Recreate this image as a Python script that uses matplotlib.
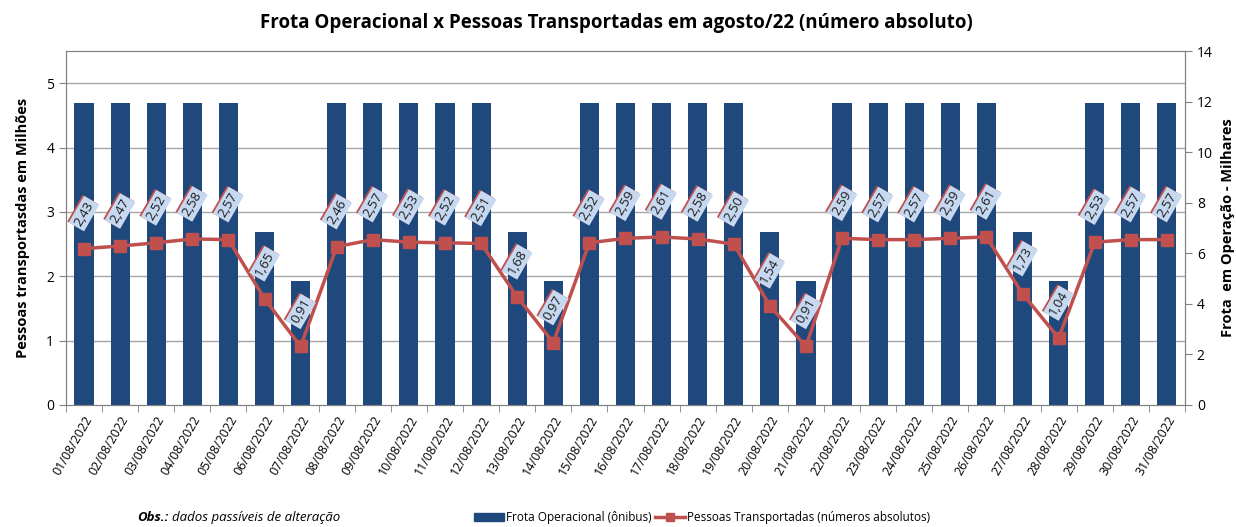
import numpy as np
import matplotlib
matplotlib.use("Agg")
import matplotlib.pyplot as plt
import matplotlib.transforms as mtransforms
from matplotlib.lines import Line2D
from matplotlib.patches import Patch

plt.rcParams['font.family'] = ['Open Sans', 'DejaVu Sans']

# Data
dias = ["%02d/08/2022" % d for d in range(1, 32)]
frota = [11.95, 11.95, 11.95, 11.95, 11.95, 6.85, 4.9,
         11.95, 11.95, 11.95, 11.95, 11.95, 6.85, 4.9,
         11.95, 11.95, 11.95, 11.95, 11.95, 6.85, 4.9,
         11.95, 11.95, 11.95, 11.95, 11.95, 6.85, 4.9,
         11.95, 11.95, 11.95]
pessoas = [2.43, 2.47, 2.52, 2.58, 2.57, 1.65, 0.91,
           2.46, 2.57, 2.53, 2.52, 2.51, 1.68, 0.97,
           2.52, 2.59, 2.61, 2.58, 2.50, 1.54, 0.91,
           2.59, 2.57, 2.57, 2.59, 2.61, 1.73, 1.04,
           2.53, 2.57, 2.57]

azul = '#1f497d'
vermelho = '#c0504d'

fig = plt.figure(figsize=(12.36, 5.27), dpi=100)
ax = fig.add_axes([0.0534, 0.2315, 0.9053, 0.6717])
ax2 = ax.twinx()

x = np.arange(len(dias))

# bars on the right axis (frota), drawn below the line
ax2.bar(x, frota, width=0.53, color=azul, zorder=2)
ax2.set_ylim(0, 14)
ax2.set_yticks(range(0, 15, 2))

ax.set_zorder(ax2.get_zorder() + 1)
ax.patch.set_visible(False)
ax.plot(x, pessoas, color=vermelho, lw=2.5, marker='s', ms=8, zorder=5)
ax.set_ylim(0, 5.5)
ax.set_yticks(range(0, 6))
ax.set_xlim(-0.5, len(dias) - 0.5)

# grid lines live on ax2 so they stay behind the bars
for v in range(1, 6):
    ax2.axhline(v * 14 / 5.5, color='#a6a6a6', lw=1, zorder=0)

# x ticks between categories
ax.set_xticks(x)
ax.set_xticklabels(dias, rotation=60, ha='right', rotation_mode='anchor', fontsize=9)
ax.set_xticks(np.arange(-0.5, len(dias)), minor=True)
ax.tick_params(axis='x', which='major', length=0, pad=6)
ax.tick_params(axis='x', which='minor', length=5, color='#808080')
ax2.tick_params(axis='x', length=0)

ax.tick_params(axis='y', labelsize=10, length=5, color='#808080')
ax2.tick_params(axis='y', labelsize=10, length=5, color='#808080')

for a in (ax, ax2):
    for s in a.spines.values():
        s.set_color('#808080')

ax.set_ylabel("Pessoas transportasdas em Milhões", fontsize=10.5, fontweight='bold', labelpad=12)
ax2.set_ylabel("Frota  em Operação - Milhares", fontsize=10.5, fontweight='bold',
               rotation=90, labelpad=6)

# data labels
for xi, yi in zip(x, pessoas):
    txt = ("%.2f" % yi).replace('.', ',')
    base = ax.transData + mtransforms.ScaledTranslation(0 / 100, 35 / 100, fig.dpi_scale_trans)
    shadow = ax.transData + mtransforms.ScaledTranslation(-1.5 / 100, 36 / 100, fig.dpi_scale_trans)
    ax.text(xi, yi, txt, transform=shadow, rotation=60, ha='center', va='center',
            fontsize=9.5, color=vermelho, zorder=6,
            bbox=dict(boxstyle='square,pad=0.18', fc=vermelho, ec='none'))
    ax.text(xi, yi, txt, transform=base, rotation=60, ha='center', va='center',
            fontsize=9.5, color='#1a1a1a', zorder=7,
            bbox=dict(boxstyle='square,pad=0.18', fc='#c6d9f1', ec='none'))

fig.suptitle("Frota Operacional x Pessoas Transportadas em agosto/22 (número absoluto)",
             x=0.499, y=0.975, fontsize=13.5, fontweight='bold')

handles = [Patch(color=azul, label="Frota Operacional (ônibus)"),
           Line2D([], [], color=vermelho, lw=2.5, marker='s', ms=6,
                  label="Pessoas Transportadas (números absolutos)")]
fig.legend(handles=handles, loc='center', bbox_to_anchor=(0.568, 0.018), ncol=2,
           frameon=False, fontsize=8.5, handlelength=2.5, handletextpad=0.2,
           columnspacing=0.3)

fig.text(137 / 1236, 0.018, "Obs.:", fontsize=9.5, style='italic', fontweight='bold', va='center')
fig.text(172 / 1236, 0.018, "dados passíveis de alteração", fontsize=9.5, style='italic', va='center')

fig.savefig("out.png", dpi=100)
